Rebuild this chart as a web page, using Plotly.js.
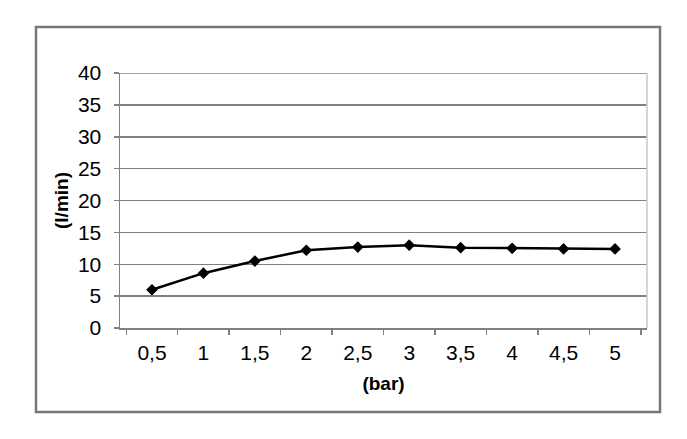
<!DOCTYPE html>
<html><head><meta charset="utf-8">
<script src="https://cdn.plot.ly/plotly-3.0.1.min.js"></script>
<style>html,body{margin:0;padding:0;background:#fff}#chart{width:687px;height:439px}</style>
</head><body><div id="chart"></div>
<script>
const categories = ["0,5","1","1,5","2","2,5","3","3,5","4","4,5","5"];
const flowValues = [6.0, 8.6, 10.5, 12.2, 12.7, 13.0, 12.6, 12.5, 12.4, 12.4];
const yTickValues = [0,5,10,15,20,25,30,35,40];
const xTitle = "(bar)";
const yTitle = "(l/min)";

const font = "'Liberation Sans', Arial, sans-serif";

const trace = {
  x: categories, y: flowValues, type: 'scatter', mode: 'lines+markers',
  line: {color: '#000', width: 2.5},
  marker: {symbol: 'diamond', size: 9, color: '#000'},
  hoverinfo: 'skip'
};

const layout = {
  width: 687, height: 439,
  margin: {l: 120, r: 40, t: 73, b: 111},
  paper_bgcolor: '#fff', plot_bgcolor: '#fff',
  showlegend: false,
  font: {family: font, color: '#000', size: 21},
  xaxis: {
    type: 'category', tickson: 'boundaries', ticks: 'outside', ticklen: 5,
    tickcolor: '#808080', tickwidth: 1.5,
    showline: true, linecolor: '#808080', linewidth: 1.5,
    showgrid: false, zeroline: false,
    ticklabelstandoff: 5,
    tickfont: {family: font, size: 21, color: '#000'},
    title: {text: xTitle, font: {family: font, size: 19, color: '#000', weight: 'bold'}, standoff: 14},
    fixedrange: true
  },
  yaxis: {
    range: [0, 40], tickvals: yTickValues, ticktext: yTickValues.map(String),
    ticks: 'outside', ticklen: 5, tickcolor: '#808080', tickwidth: 1.5,
    showline: true, linecolor: '#808080', linewidth: 1.5,
    showgrid: true, gridcolor: '#808080', gridwidth: 1.5, zeroline: false,
    ticklabelstandoff: 8,
    tickfont: {family: font, size: 21, color: '#000'},
    title: {text: yTitle, font: {family: font, size: 19, color: '#000', weight: 'bold'}, standoff: 4},
    fixedrange: true
  },
  shapes: [
    {type: 'line', xref: 'paper', yref: 'y', x0: 0, x1: 1, y0: 40, y1: 40,
     line: {color: '#808080', width: 1.5}},
    {type: 'line', xref: 'paper', yref: 'paper', x0: 1, x1: 1, y0: 0, y1: 1,
     line: {color: '#c8c8c8', width: 1.5}},
    {type: 'rect', xref: 'paper', yref: 'paper',
     x0: (36 - 120) / 527, x1: (660 - 120) / 527,
     y0: (328 - 412) / 255, y1: (328 - 27) / 255,
     line: {color: '#777', width: 2.5}}
  ]
};

Plotly.newPlot('chart', [trace], layout, {displayModeBar: false, staticPlot: true});
</script></body></html>
